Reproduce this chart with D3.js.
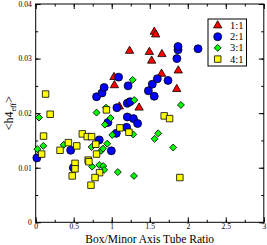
<!DOCTYPE html>
<html><head><meta charset="utf-8">
<script src="https://cdn.jsdelivr.net/npm/d3@7"></script>
<style>body{margin:0;background:#fff}svg{display:block}</style>
</head><body>
<script>
const xTicks = [0, 0.5, 1, 1.5, 2, 2.5, 3];
const yTicks = [0, 0.01, 0.02, 0.03, 0.04];
const seriesNames = ["1:1", "2:1", "3:1", "4:1"];
const series11 = [[1.03,0.0266],[1.035,0.0251],[1.10,0.0212],[1.235,0.0314],[1.36,0.0210],[1.495,0.0312],[1.525,0.0296],[1.56,0.0349],[1.578,0.0344],[1.66,0.0308],[1.655,0.0272],[1.855,0.0244],[1.875,0.0278]];
const series21 = [[0.015,0.0118],[0.46,0.0132],[0.495,0.0100],[0.836,0.0151],[0.995,0.0131],[1.06,0.0163],[1.195,0.0174],[0.95,0.0183],[1.205,0.0193],[1.285,0.0190],[1.34,0.0181],[1.068,0.0210],[1.205,0.0218],[1.24,0.0221],[0.80,0.0230],[0.872,0.0237],[0.90,0.0247],[1.09,0.0266],[1.215,0.0250],[1.482,0.0241],[1.533,0.0253],[1.60,0.0263],[1.559,0.0231],[1.74,0.0260],[1.857,0.0300],[1.872,0.0316],[1.872,0.0322],[2.135,0.0318]];
const series31 = [[0.043,0.0192],[0.022,0.0134],[0.10,0.0140],[0.368,0.0142],[0.735,0.0138],[0.742,0.0102],[0.80,0.0201],[0.925,0.0210],[0.985,0.0191],[0.91,0.0179],[0.94,0.0144],[1.007,0.0160],[0.86,0.0131],[0.885,0.0135],[0.836,0.0105],[0.888,0.0103],[0.90,0.0096],[1.08,0.0092],[1.292,0.0085],[1.283,0.0161],[1.296,0.0224],[1.275,0.0261],[1.564,0.0153],[1.611,0.0163],[1.808,0.0137],[1.91,0.0215]];
const series41 = [[0.13,0.0235],[0.19,0.0198],[0.103,0.0158],[0.078,0.0125],[0.32,0.0132],[0.43,0.0146],[0.54,0.0140],[0.613,0.0162],[0.678,0.0157],[0.735,0.0157],[0.79,0.0143],[0.80,0.0125],[0.517,0.0108],[0.517,0.0098],[0.48,0.0085],[0.69,0.0114],[0.70,0.0111],[0.84,0.0091],[0.78,0.0082],[0.727,0.0068],[0.93,0.0206],[1.108,0.0173],[1.226,0.0165],[1.69,0.0195],[1.761,0.0190],[1.896,0.0082]];
const colors = ["#ff0000", "#0000ff", "#00ff00", "#ffff00"];

const W = 267, H = 245;
const L = 35.7, R = 263.8, T = 4, B = 222.3;
const x = d3.scaleLinear().domain([0, 3]).range([L, R]);
const y = d3.scaleLinear().domain([0, 0.04]).range([B, T]);
const font = "'Liberation Serif','Times New Roman',serif";

const svg = d3.select("body").append("svg").attr("width", W).attr("height", H);

const xMinor = d3.range(0, 3.001, 0.25);
const yMinor = d3.range(0, 0.04001, 0.005);

function styleAxis(g, fs, keepText) {
  g.select(".domain").remove();
  g.selectAll("line").attr("stroke", "#000");
  if (!keepText) g.selectAll("text").remove();
  else g.selectAll("text").attr("font-family", font).attr("font-size", fs).attr("fill", "#000");
}
// bottom
svg.append("g").attr("transform", `translate(0,${B})`)
  .call(d3.axisBottom(x).tickValues(xMinor).tickSize(-2.5).tickFormat(""))
  .call(g => styleAxis(g, 7.5, false));
svg.append("g").attr("transform", `translate(0,${B})`)
  .call(d3.axisBottom(x).tickValues(xTicks).tickSize(-5).tickPadding(1.5).tickFormat(d3.format("")))
  .call(g => styleAxis(g, 7.5, true));
// top
svg.append("g").attr("transform", `translate(0,${T})`)
  .call(d3.axisTop(x).tickValues(xMinor).tickSize(-2.5).tickFormat(""))
  .call(g => styleAxis(g, 7.5, false));
svg.append("g").attr("transform", `translate(0,${T})`)
  .call(d3.axisTop(x).tickValues(xTicks).tickSize(-5).tickFormat(""))
  .call(g => styleAxis(g, 7.5, false));
// left
svg.append("g").attr("transform", `translate(${L},0)`)
  .call(d3.axisLeft(y).tickValues(yMinor).tickSize(-2.5).tickFormat(""))
  .call(g => styleAxis(g, 7.5, false));
svg.append("g").attr("transform", `translate(${L},0)`)
  .call(d3.axisLeft(y).tickValues(yTicks).tickSize(-5).tickPadding(4).tickFormat(d => d === 0 ? "0" : d3.format(".2f")(d)))
  .call(g => styleAxis(g, 7.5, true));
// right
svg.append("g").attr("transform", `translate(${R},0)`)
  .call(d3.axisRight(y).tickValues(yMinor).tickSize(-2.5).tickFormat(""))
  .call(g => styleAxis(g, 7.5, false));
svg.append("g").attr("transform", `translate(${R},0)`)
  .call(d3.axisRight(y).tickValues(yTicks).tickSize(-5).tickFormat(""))
  .call(g => styleAxis(g, 7.5, false));

// frame
svg.append("rect").attr("x", L).attr("y", T).attr("width", R - L).attr("height", B - T)
  .attr("fill", "none").attr("stroke", "#000").attr("stroke-width", 1);

const symbols = [
  d3.symbol().type(d3.symbolTriangle).size(30),
  d3.symbol().type(d3.symbolCircle).size(50),
  d3.symbol().type(d3.symbolSquare).size(24),
  d3.symbol().type(d3.symbolSquare).size(42)
];
const rot = [0, 0, 45, 0];
const allSeries = [series11, series21, series31, series41];
allSeries.forEach((s, i) => {
  svg.append("g").selectAll("path").data(s).join("path")
    .attr("d", symbols[i]())
    .attr("transform", d => `translate(${x(d[0])},${y(d[1])}) rotate(${rot[i]})`)
    .attr("fill", colors[i]).attr("stroke", "#000").attr("stroke-width", 0.8);
});

// legend
const lg = svg.append("g");
lg.append("rect").attr("x", 208).attr("y", 19).attr("width", 38.5).attr("height", 47)
  .attr("fill", "#fff").attr("stroke", "#000").attr("stroke-width", 1);
seriesNames.forEach((n, i) => {
  const yy = 25.5 + i * 11.2;
  lg.append("path").attr("d", symbols[i]()).attr("transform", `translate(217.7,${yy}) rotate(${rot[i]})`)
    .attr("fill", colors[i]).attr("stroke", "#000").attr("stroke-width", 0.8);
  lg.append("text").attr("x", 230).attr("y", yy + 3.5).text(n)
    .attr("font-family", font).attr("font-size", 10.5).attr("fill", "#000");
});

// axis titles
svg.append("text").attr("x", (L + R) / 2).attr("y", 243.3).attr("text-anchor", "middle")
  .attr("font-family", font).attr("font-size", 11.5).text("Box/Minor Axis Tube Ratio");
const yt = svg.append("text").attr("transform", `translate(13,${(T + B) / 2}) rotate(-90)`)
  .attr("text-anchor", "middle").attr("font-family", font).attr("font-size", 12);
yt.append("tspan").text("<h4");
yt.append("tspan").attr("font-size", 8).attr("dy", 3).text("eff");
yt.append("tspan").attr("dy", -3).text(">");
</script>
</body></html>
